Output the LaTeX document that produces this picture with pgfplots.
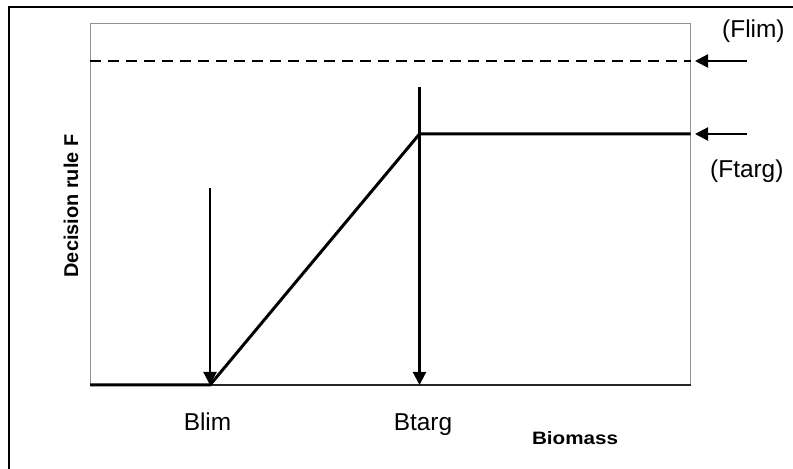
\documentclass[border=0pt]{standalone}
\usepackage{fontspec}
\setmainfont{Liberation Sans}
\usepackage{pgfplots}
\pgfplotsset{compat=1.18}
\usetikzlibrary{arrows.meta}
\begin{document}
\begin{tikzpicture}[x=1bp,y=1bp]
\useasboundingbox (0,0) rectangle (793,469);
\draw[line width=2.2bp] (9,-5) -- (9,462) -- (800,462);
\begin{axis}[
  scale only axis, width=600.7bp, height=361bp,
  at={(90bp,84bp)}, anchor=south west,
  xmin=90, xmax=690.7, ymin=0, ymax=361,
  xtick=\empty, ytick=\empty,
  axis line style={gray!85, line width=1bp},
  clip=false,
]
% x axis base line
\addplot[black!85, line width=1.3bp] coordinates {(90,0) (690.7,0)};
% Flim dashed
\addplot[black, line width=2bp, dash pattern=on 11bp off 7bp] coordinates {(90,324) (690.7,324)};
% decision rule
\addplot[black, line width=3bp, line join=round] coordinates {(90,0) (210,0) (300,108) (419.5,251) (690.7,251)};
% vertical arrows
\addplot[black, line width=2.2bp, -{Triangle[width=13bp,length=13bp]}, shorten >=-1bp] coordinates {(210,197) (210,1)};
\addplot[black, line width=2.2bp, -{Triangle[width=13bp,length=13bp]}, shorten >=-1bp] coordinates {(419.5,298) (419.5,1)};
% horizontal arrows
\addplot[black, line width=2.2bp, -{Triangle[width=13bp,length=13bp]}] coordinates {(747,324) (695,324)};
\addplot[black, line width=2.2bp, -{Triangle[width=13bp,length=13bp]}] coordinates {(747,251) (695,251)};
% labels
\node[anchor=base west, inner sep=0pt, font=\fontsize{24.5}{28}\selectfont] at (axis cs:722,347) {(Flim)};
\node[anchor=base west, inner sep=0pt, font=\fontsize{24.5}{28}\selectfont] at (axis cs:710,207) {(Ftarg)};
\node[anchor=base, inner sep=0pt, font=\fontsize{24.5}{28}\selectfont] at (axis cs:207.5,-46) {Blim};
\node[anchor=base, inner sep=0pt, font=\fontsize{24.5}{28}\selectfont] at (axis cs:423,-46) {Btarg};
\node[anchor=base, inner sep=0pt, font=\fontsize{18}{22}\selectfont\bfseries, xscale=1.15, transform shape] at (axis cs:575,-60) {Biomass};
\node[anchor=center, inner sep=0pt, rotate=90, font=\fontsize{20}{22}\selectfont\bfseries] at (axis cs:71,179) {Decision rule F};
\end{axis}
\end{tikzpicture}
\end{document}
